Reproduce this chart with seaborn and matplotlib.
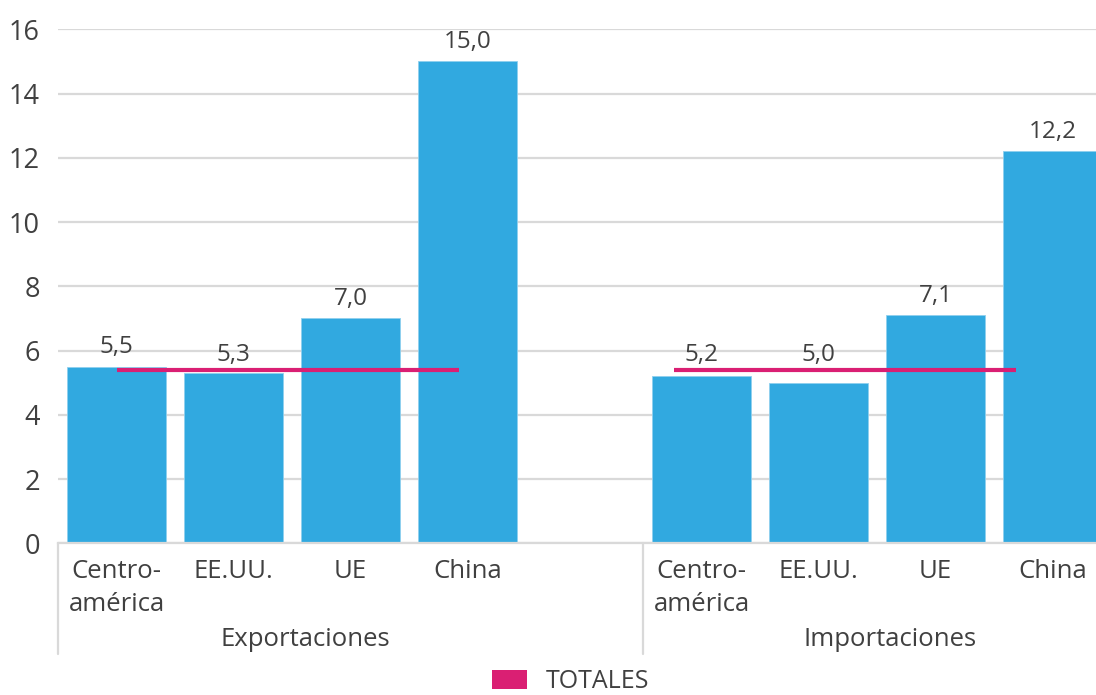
import numpy as np
import pandas as pd
import matplotlib
matplotlib.use("Agg")
import matplotlib.pyplot as plt
import seaborn as sns
from matplotlib.patches import Patch
from matplotlib.transforms import blended_transform_factory

# Podaci
grupe = ["Exportaciones", "Importaciones"]
kategorije = ["Centro-\namérica", "EE.UU.", "UE", "China"]
export_vals = [5.5, 5.3, 7.0, 15.0]
import_vals = [5.2, 5.0, 7.1, 12.2]
totales = [5.4, 5.4]

# Boje i font
PLAVA = "#31A9E0"
MAGENTA = "#DA1F73"
SIVA_TXT = "#404040"
SIVA_GRID = "#D9D9D9"

sns.set_style("white")
plt.rcParams["font.family"] = ["Open Sans", "DejaVu Sans"]

# pozicije stupaca (prazno mjesto izmedu grupa)
pos_exp = [0, 1, 2, 3]
pos_imp = [5, 6, 7, 8]
df = pd.DataFrame({
    "pos": pos_exp + pos_imp,
    "valor": export_vals + import_vals,
    "total": [totales[0]] * 4 + [totales[1]] * 4,
})

fig = plt.figure(figsize=(10.96, 6.95), dpi=100)
ax = fig.add_axes([58 / 1096, 151.7 / 695, 1 - 58 / 1096, (543.3 - 29.3) / 695])

sns.barplot(data=df, x="pos", y="valor", native_scale=True, color=PLAVA,
            width=0.845, saturation=1, edgecolor="#8FD0EE", linewidth=0.6,
            ax=ax, zorder=2)

# vrijednosti iznad stupaca (iznad linije ako bi se preklapale)
for x, v, t in zip(df["pos"], df["valor"], df["total"]):
    if v < t:
        y, off = t, 6
    else:
        y, off = v, 9.5
    ax.annotate(f"{v:.1f}".replace(".", ","), (x, y), xytext=(0, off),
                textcoords="offset points", ha="center", va="baseline",
                fontsize=17.5, color=SIVA_TXT, zorder=4)

# linije TOTALES
ax.plot([pos_exp[0], pos_exp[-1] - 0.07], [totales[0]] * 2, color=MAGENTA,
        lw=3, solid_capstyle="butt", zorder=3)
ax.plot([pos_imp[0] - 0.24, pos_imp[-1] - 0.31], [totales[1]] * 2, color=MAGENTA,
        lw=3, solid_capstyle="butt", zorder=3)

ax.set_xlim(-0.5, 8.37)
ax.set_ylim(0, 16)
ax.set_yticks(np.arange(0, 17, 2))
ax.yaxis.grid(True, color=SIVA_GRID, lw=1.6)
ax.set_axisbelow(True)
for s in ["top", "right", "left"]:
    ax.spines[s].set_visible(False)
ax.spines["bottom"].set_color(SIVA_GRID)
ax.spines["bottom"].set_linewidth(1.6)

ax.set_xticks(pos_exp + pos_imp)
ax.set_xticklabels(kategorije * 2, fontsize=18.5, color=SIVA_TXT, linespacing=1.45)
ax.tick_params(axis="x", length=0, pad=11)
ax.tick_params(axis="y", length=0, pad=13, labelsize=19.5, labelcolor=SIVA_TXT)
ax.set_xlabel("")
ax.set_ylabel("")

# nazivi grupa i razdjelnici
tr = blended_transform_factory(ax.transData, ax.transAxes)
for g, p in zip(grupe, [pos_exp, pos_imp]):
    ax.text(np.mean(p) + 0.11, -0.2, g, transform=tr, ha="center", va="baseline",
            fontsize=18.5, color=SIVA_TXT)
for xs in [-0.5, 4.5]:
    ax.plot([xs, xs], [0, -0.216], transform=tr, color=SIVA_GRID, lw=1.6,
            clip_on=False)

# legenda
fig.legend(handles=[Patch(facecolor=MAGENTA, edgecolor="none", label="TOTALES")],
           loc="center", bbox_to_anchor=(0.521, 0.019), frameon=False,
           fontsize=18, labelcolor=SIVA_TXT, handlelength=1.4, handleheight=0.75,
           handletextpad=0.75)

fig.savefig("out.png", dpi=100)
